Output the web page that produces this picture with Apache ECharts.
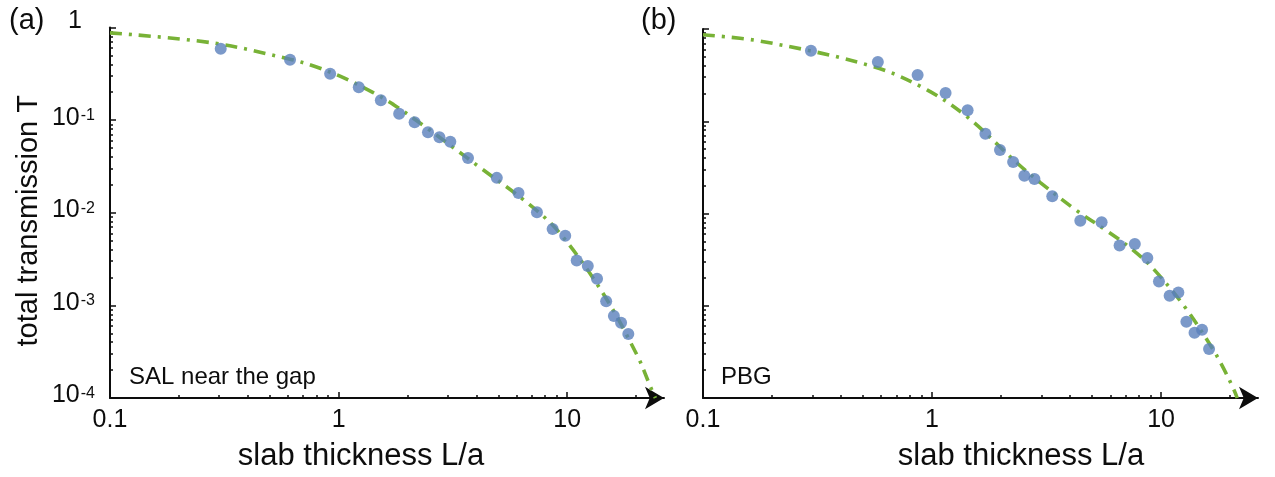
<!DOCTYPE html>
<html>
<head>
<meta charset="utf-8">
<script src="https://cdn.jsdelivr.net/npm/echarts@6/dist/echarts.min.js"></script>
<style>
  html, body { margin: 0; padding: 0; background: #fff; }
  #chart { width: 1275px; height: 477px; }
</style>
</head>
<body>
<div id="chart"></div>
<script>
// (a) SAL near the gap: measured total transmission vs slab thickness
const slabA  = [0.305, 0.613, 0.918, 1.225, 1.53, 1.84, 2.15, 2.46, 2.76, 3.08, 3.68, 4.92,
                6.12, 7.37, 8.63, 9.80, 11.0, 12.3, 13.5, 14.8, 16.0, 17.2, 18.5];
const transA = [0.588, 0.448, 0.317, 0.226, 0.164, 0.117, 0.0949, 0.0741, 0.0655, 0.0585, 0.0390, 0.0238,
                0.0163, 0.0101, 0.00668, 0.00566, 0.00305, 0.00266, 0.00194, 0.00111, 0.00077, 0.00065, 0.00049];
// (a) fitted curve
const fitSlabA  = [0.1, 0.282, 0.613, 0.789, 1.02, 1.41, 1.74, 2.35, 3.18, 4.16, 6.66, 9.16, 14.2, 20.2, 23.1, 24.3];
const fitTransA = [0.875, 0.681, 0.455, 0.379, 0.296, 0.1995, 0.147, 0.0875, 0.0504, 0.0307, 0.0129, 0.00625,
                   0.0014, 0.000291, 0.000133, 0.0001];

// (b) PBG: measured total transmission vs slab thickness
const slabB  = [0.296, 0.58, 0.865, 1.146, 1.43, 1.71, 1.98, 2.26, 2.53, 2.80, 3.35, 4.44,
                5.50, 6.59, 7.68, 8.71, 9.79, 10.9, 11.9, 12.9, 14.0, 15.1, 16.2];
const transB = [0.582, 0.438, 0.317, 0.202, 0.1315, 0.0733, 0.0488, 0.0362, 0.0256, 0.0236, 0.0154, 0.00836,
                0.00805, 0.00451, 0.00468, 0.00330, 0.00183, 0.00128, 0.00139, 0.00067, 0.00051, 0.00055, 0.00034];
// (b) fitted curve
const fitSlabB  = [0.1, 0.184, 0.555, 0.951, 1.446, 2.35, 2.98, 4.23, 5.82, 7.49, 9.3, 12.6, 16.5, 18.5, 20.8, 21.5];
const fitTransB = [0.865, 0.729, 0.391, 0.219, 0.108, 0.0353, 0.0215, 0.011, 0.00644, 0.00408, 0.00248,
                   0.000995, 0.000367, 0.000223, 0.000123, 0.0001];

// axis extents and tick positions
const xRange = [0.1, 26.5];
const yRange = [1e-4, 1];
const xMajorTicks = [0.1, 1, 10];
const xMinorTicks = [0.2, 0.3, 0.4, 0.5, 0.6, 0.7, 0.8, 0.9, 2, 3, 4, 5, 6, 7, 8, 9, 20];
const yMajorTicks = [1e-4, 1e-3, 1e-2, 1e-1, 1];
const yMinorTicks = [2e-4, 3e-4, 4e-4, 5e-4, 6e-4, 7e-4, 8e-4, 9e-4,
                     2e-3, 3e-3, 4e-3, 5e-3, 6e-3, 7e-3, 8e-3, 9e-3,
                     2e-2, 3e-2, 4e-2, 5e-2, 6e-2, 7e-2, 8e-2, 9e-2,
                     0.2, 0.3, 0.4, 0.5, 0.6, 0.7, 0.8, 0.9];

const FONT = '"Liberation Sans", Arial, Helvetica, sans-serif';
const INK = '#0d0d0d';
const DOT = '#5a80bc';
const FIT = '#78b236';

const pairs = (xs, ys) => xs.map((x, i) => [x, ys[i]]);

function xMain(gridIndex, namePadding) {
  return {
    type: 'log', logBase: 10, gridIndex, position: 'bottom',
    min: xRange[0], max: xRange[1],
    axisLine: { show: true, onZero: false, symbol: ['none', 'arrow'], symbolSize: [17, 19],
                lineStyle: { color: INK, width: 2 } },
    axisTick: { show: true, inside: true, length: 6, customValues: xMajorTicks,
                lineStyle: { color: INK, width: 1.5 } },
    axisLabel: { show: true, customValues: xMajorTicks, margin: 10, fontSize: 25,
                 fontFamily: FONT, color: INK, formatter: v => String(v) },
    splitLine: { show: false },
    name: 'slab thickness L/a', nameLocation: 'middle', nameGap: 43,
    nameTextStyle: { fontSize: 31, fontFamily: FONT, color: INK, padding: namePadding }
  };
}

function xMinor(gridIndex) {
  return {
    type: 'log', logBase: 10, gridIndex, position: 'bottom',
    min: xRange[0], max: xRange[1],
    axisLine: { show: false },
    axisTick: { show: true, inside: true, length: 3, customValues: xMinorTicks,
                lineStyle: { color: INK, width: 1.5 } },
    axisLabel: { show: false },
    splitLine: { show: false }
  };
}

function yLabel(v) {
  const e = Math.round(Math.log10(v));
  if (e === 0) return '{one|1}';
  return '{b|10}{s|' + e + '}';
}

function yMain(gridIndex, withLabels) {
  const axis = {
    type: 'log', logBase: 10, gridIndex, position: 'left',
    min: yRange[0], max: yRange[1],
    axisLine: { show: true, onZero: false, lineStyle: { color: INK, width: 2 } },
    axisTick: { show: true, inside: true, length: 6, customValues: yMajorTicks,
                lineStyle: { color: INK, width: 1.5 } },
    axisLabel: { show: false },
    splitLine: { show: false }
  };
  if (withLabels) {
    axis.axisLabel = {
      show: true, customValues: yMajorTicks, margin: 15, formatter: yLabel,
      fontFamily: FONT, color: INK, fontSize: 25,
      rich: {
        b:   { fontSize: 25, lineHeight: 25, fontFamily: FONT, color: INK, padding: [0, 0, 5, 0] },
        s:   { fontSize: 16, lineHeight: 16, fontFamily: FONT, color: INK, verticalAlign: 'top', padding: [0, 0, 0, 1] },
        one: { fontSize: 25, lineHeight: 25, fontFamily: FONT, color: INK, padding: [0, 13, 13, 0] }
      }
    };
    axis.name = 'total transmission T';
    axis.nameLocation = 'middle';
    axis.nameGap = 67;
    axis.nameTextStyle = { fontSize: 29, fontFamily: FONT, color: INK, padding: [0, 16, 0, 0] };
  }
  return axis;
}

function yMinor(gridIndex) {
  return {
    type: 'log', logBase: 10, gridIndex, position: 'left',
    min: yRange[0], max: yRange[1],
    axisLine: { show: false },
    axisTick: { show: true, inside: true, length: 3, customValues: yMinorTicks,
                lineStyle: { color: INK, width: 1.5 } },
    axisLabel: { show: false },
    splitLine: { show: false }
  };
}

function fitSeries(xIdx, yIdx, xs, ys) {
  return {
    type: 'line', xAxisIndex: xIdx, yAxisIndex: yIdx,
    data: pairs(xs, ys), showSymbol: false, smooth: 0.35, z: 2,
    lineStyle: { color: FIT, width: 3.6, type: [12, 7, 3, 7] }
  };
}

function dotSeries(xIdx, yIdx, xs, ys) {
  return {
    type: 'scatter', xAxisIndex: xIdx, yAxisIndex: yIdx,
    data: pairs(xs, ys), symbol: 'circle', symbolSize: 12, z: 3,
    itemStyle: { color: DOT }
  };
}

function caption(text, x, y, size) {
  return {
    type: 'text', x, y, z: 10,
    style: { text, fill: INK, fontSize: size, fontFamily: FONT, verticalAlign: 'middle', align: 'left' }
  };
}

const chart = echarts.init(document.getElementById('chart'), null, { renderer: 'canvas' });
chart.setOption({
  backgroundColor: '#fff',
  animation: false,
  grid: [
    { left: 110, top: 27.5, width: 554, height: 372.5 },
    { left: 703, top: 29, width: 555, height: 370 }
  ],
  xAxis: [
    xMain(0, [0, 52, 0, 0]), xMinor(0),
    xMain(1, [0, 0, 0, 81]), xMinor(1)
  ],
  yAxis: [
    yMain(0, true), yMinor(0),
    yMain(1, false), yMinor(1)
  ],
  series: [
    fitSeries(0, 0, fitSlabA, fitTransA),
    dotSeries(0, 0, slabA, transA),
    fitSeries(2, 2, fitSlabB, fitTransB),
    dotSeries(2, 2, slabB, transB)
  ],
  graphic: [
    caption('(a)', 9, 21, 29),
    caption('(b)', 641, 21, 29),
    caption('SAL near the gap', 129, 377, 24),
    caption('PBG', 721, 377, 24)
  ]
});
</script>
</body>
</html>
